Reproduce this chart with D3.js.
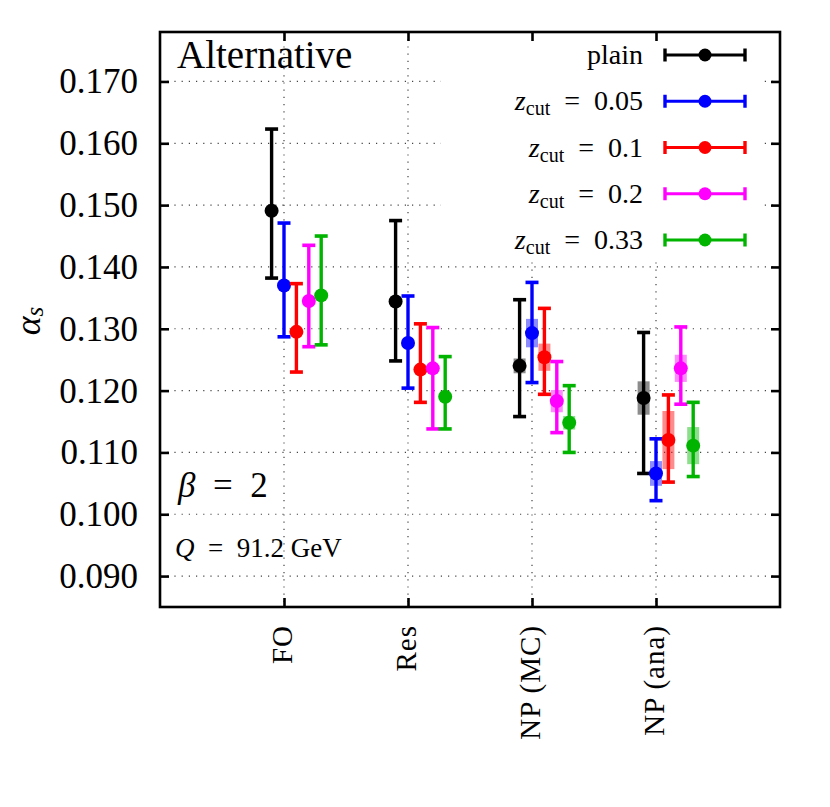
<!DOCTYPE html>
<html>
<head>
<meta charset="utf-8">
<script src="https://cdn.jsdelivr.net/npm/d3@7"></script>
<style>
  html, body { margin: 0; padding: 0; background: #fff; }
  svg text { font-family: "Liberation Serif", "DejaVu Serif", serif; fill: #000; }
</style>
</head>
<body>
<svg id="chart" width="830" height="807"></svg>
<script>
// ---------------- data ----------------
const categories = ["FO", "Res", "NP (MC)", "NP (ana)"];
const seriesNames = ["plain", "0.05", "0.1", "0.2", "0.33"];
const seriesColors = ["#000000", "#0000ff", "#ff0000", "#ff00ff", "#00b400"];
const seriesOffsets = [-0.1, 0, 0.1, 0.2, 0.3];

const plainValue   = [0.1491, 0.1344, 0.1240, 0.1188];
const plainLower   = [0.1382, 0.1248, 0.1158, 0.1066];
const plainUpper   = [0.1623, 0.1475, 0.1347, 0.1294];
const plainBand    = [null, null, 0.0012, 0.0027];

const z005Value    = [0.1370, 0.1277, 0.1293, 0.1066];
const z005Lower    = [0.1287, 0.1204, 0.1213, 0.1022];
const z005Upper    = [0.1471, 0.1353, 0.1375, 0.1122];
const z005Band     = [null, null, 0.0023, 0.0020];

const z01Value     = [0.1295, 0.1234, 0.1254, 0.1120];
const z01Lower     = [0.1230, 0.1181, 0.1194, 0.1052];
const z01Upper     = [0.1373, 0.1308, 0.1333, 0.1193];
const z01Band      = [null, null, 0.0022, 0.0047];

const z02Value     = [0.1345, 0.1236, 0.1183, 0.1236];
const z02Lower     = [0.1271, 0.1138, 0.1132, 0.1178];
const z02Upper     = [0.1435, 0.1302, 0.1247, 0.1303];
const z02Band      = [null, null, 0.0018, 0.0022];

const z033Value    = [0.1354, 0.1190, 0.1148, 0.1111];
const z033Lower    = [0.1274, 0.1138, 0.1100, 0.1061];
const z033Upper    = [0.1450, 0.1255, 0.1208, 0.1181];
const z033Band     = [null, null, 0.0011, 0.0030];

const yTicks = [0.090, 0.100, 0.110, 0.120, 0.130, 0.140, 0.150, 0.160, 0.170];
const yTickLabels = ["0.090", "0.100", "0.110", "0.120", "0.130", "0.140", "0.150", "0.160", "0.170"];

// ------------- build table --------------
const valueSets = [plainValue, z005Value, z01Value, z02Value, z033Value];
const lowerSets = [plainLower, z005Lower, z01Lower, z02Lower, z033Lower];
const upperSets = [plainUpper, z005Upper, z01Upper, z02Upper, z033Upper];
const bandSets  = [plainBand, z005Band, z01Band, z02Band, z033Band];

const points = [];
seriesNames.forEach((s, si) => {
  categories.forEach((c, ci) => {
    points.push({
      series: si, cat: ci,
      x: ci + 1 + seriesOffsets[si],
      v: valueSets[si][ci], lo: lowerSets[si][ci], hi: upperSets[si][ci],
      band: bandSets[si][ci], color: seriesColors[si]
    });
  });
});

// ------------- layout -------------------
const L = 160, R = 780, T = 32, B = 607;
const svg = d3.select("#chart");
const x = d3.scaleLinear().domain([0, 5]).range([L, R]);
const y = d3.scaleLinear().domain([0.085, 0.178]).range([B, T]);

// grid
const grid = svg.append("g");
grid.selectAll("line.h").data(yTicks).join("line")
  .attr("x1", L).attr("x2", R).attr("y1", d => y(d)).attr("y2", d => y(d))
  .attr("stroke", "#444").attr("stroke-width", 1.2).attr("stroke-dasharray", "1.2,6");
grid.selectAll("line.v").data(categories).join("line")
  .attr("x1", (d, i) => x(i + 1)).attr("x2", (d, i) => x(i + 1))
  .attr("y1", T).attr("y2", B)
  .attr("stroke", "#444").attr("stroke-width", 1.2).attr("stroke-dasharray", "1.2,6");

// legend background (covers grid)
svg.append("rect").attr("x", 441).attr("y", 34).attr("width", 321).attr("height", 228).attr("fill", "#fff");

// axes ticks (inward) using d3 axes
const axL = d3.axisRight(y).tickValues(yTicks).tickSize(9).tickFormat("");
const axRt = d3.axisLeft(y).tickValues(yTicks).tickSize(9).tickFormat("");
const axB = d3.axisTop(x).tickValues([1, 2, 3, 4]).tickSize(9).tickFormat("");
const axT = d3.axisBottom(x).tickValues([1, 2, 3, 4]).tickSize(9).tickFormat("");
[[axL, `translate(${L},0)`], [axRt, `translate(${R},0)`], [axB, `translate(0,${B})`], [axT, `translate(0,${T})`]]
  .forEach(([ax, tr]) => {
    const g = svg.append("g").attr("transform", tr).call(ax);
    g.select(".domain").remove();
    g.selectAll("line").attr("stroke", "#000").attr("stroke-width", 2.6);
  });

// y tick labels
svg.append("g").selectAll("text").data(yTicks).join("text")
  .attr("x", 138).attr("y", d => y(d)).attr("dy", "0.34em")
  .attr("text-anchor", "end").attr("font-size", 35)
  .text((d, i) => yTickLabels[i]);

// x category labels (rotated)
svg.append("g").selectAll("text").data(categories).join("text")
  .attr("transform", (d, i) => `translate(${x(i + 1) + 8},625) rotate(-90)`)
  .attr("text-anchor", "end").attr("font-size", 29).attr("letter-spacing", 1)
  .text(d => d);

// y axis label
const yl = svg.append("text").attr("transform", "translate(40,321) rotate(-90)")
  .attr("text-anchor", "middle").attr("font-size", 36);
yl.append("tspan").attr("font-style", "italic").text("α");
yl.append("tspan").attr("font-style", "italic").attr("font-size", 25).attr("dy", 3).text("s");

// bands
svg.append("g").selectAll("rect").data(points.filter(p => p.band != null)).join("rect")
  .attr("x", p => x(p.x) - 6).attr("width", 12)
  .attr("y", p => y(p.v + p.band)).attr("height", p => y(p.v - p.band) - y(p.v + p.band))
  .attr("fill", p => p.color).attr("opacity", 0.45);

// error bars
const eb = svg.append("g").selectAll("g").data(points).join("g");
eb.append("line").attr("x1", p => x(p.x)).attr("x2", p => x(p.x))
  .attr("y1", p => y(p.lo)).attr("y2", p => y(p.hi))
  .attr("stroke", p => p.color).attr("stroke-width", 3.4);
eb.append("line").attr("x1", p => x(p.x) - 6.5).attr("x2", p => x(p.x) + 6.5)
  .attr("y1", p => y(p.lo)).attr("y2", p => y(p.lo))
  .attr("stroke", p => p.color).attr("stroke-width", 3.6);
eb.append("line").attr("x1", p => x(p.x) - 6.5).attr("x2", p => x(p.x) + 6.5)
  .attr("y1", p => y(p.hi)).attr("y2", p => y(p.hi))
  .attr("stroke", p => p.color).attr("stroke-width", 3.6);
eb.append("circle").attr("cx", p => x(p.x)).attr("cy", p => y(p.v)).attr("r", 7)
  .attr("fill", p => p.color);

// legend
const legY = d3.scaleLinear().domain([0, 4]).range([55, 240]);
const lg = svg.append("g").selectAll("g").data(seriesNames).join("g")
  .attr("transform", (d, i) => `translate(0,${legY(i)})`);
lg.each(function (d, i) {
  const g = d3.select(this);
  const t = g.append("text").attr("x", 643).attr("y", 9).attr("text-anchor", "end").attr("font-size", 28);
  if (i === 0) {
    t.text("plain");
  } else {
    t.append("tspan").attr("font-style", "italic").text("z");
    t.append("tspan").attr("font-size", 20).attr("dy", 5).text("cut");
    t.append("tspan").attr("dy", -5).text("\u2002=\u2002" + d);
  }
  const c = seriesColors[i];
  g.append("line").attr("x1", 665).attr("x2", 745).attr("y1", 0).attr("y2", 0).attr("stroke", c).attr("stroke-width", 3.2);
  g.append("line").attr("x1", 665).attr("x2", 665).attr("y1", -6.5).attr("y2", 6.5).attr("stroke", c).attr("stroke-width", 3.4);
  g.append("line").attr("x1", 745).attr("x2", 745).attr("y1", -6.5).attr("y2", 6.5).attr("stroke", c).attr("stroke-width", 3.4);
  g.append("circle").attr("cx", 705).attr("cy", 0).attr("r", 6.5).attr("fill", c);
});

// annotations
svg.append("text").attr("x", 177).attr("y", 68).attr("font-size", 39).text("Alternative");
const bt = svg.append("text").attr("x", 178).attr("y", 497).attr("font-size", 35);
bt.append("tspan").attr("font-style", "italic").text("β");
bt.append("tspan").text("\u2002=\u20022");
const qt = svg.append("text").attr("x", 175).attr("y", 557).attr("font-size", 27);
qt.append("tspan").attr("font-style", "italic").text("Q");
qt.append("tspan").text("\u2002=\u200291.2 GeV");

// frame
svg.append("rect").attr("x", L).attr("y", T).attr("width", R - L).attr("height", B - T)
  .attr("fill", "none").attr("stroke", "#000").attr("stroke-width", 2.6);
</script>
</body>
</html>
